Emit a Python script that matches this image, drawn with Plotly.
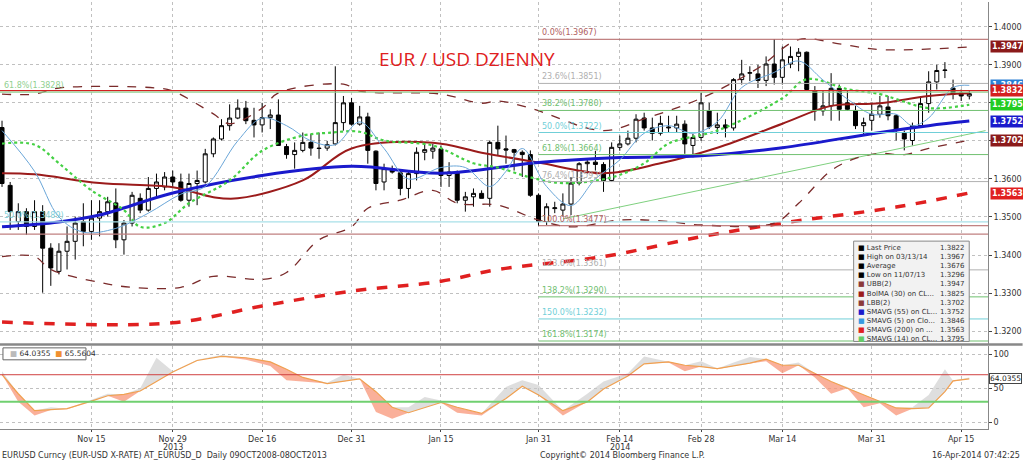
import numpy as np
import pandas as pd
import plotly.graph_objects as go
from plotly.subplots import make_subplots

# daily bars, 31 Oct 2013 .. 16 Apr 2014
dates = pd.bdate_range('2013-10-31', periods=120)

opens = [1.3735, 1.3583, 1.3488, 1.3514, 1.3475, 1.3514, 1.3418, 1.3357, 1.3410, 1.3436,
         1.3488, 1.3462, 1.3497, 1.3514, 1.3537, 1.3440, 1.3484, 1.3549, 1.3518, 1.3575,
         1.3579, 1.3605, 1.3592, 1.3544, 1.3588, 1.3592, 1.3666, 1.3705, 1.3740, 1.3760,
         1.3786, 1.3754, 1.3742, 1.3761, 1.3768, 1.3685, 1.3664, 1.3675, 1.3696, 1.3681,
         1.3681, 1.3692, 1.3748, 1.3800, 1.3744, 1.3763, 1.3673, 1.3592, 1.3627, 1.3616,
         1.3575, 1.3614, 1.3670, 1.3673, 1.3679, 1.3609, 1.3618, 1.3544, 1.3553, 1.3562,
         1.3549, 1.3696, 1.3679, 1.3677, 1.3670, 1.3664, 1.3557, 1.3488, 1.3522, 1.3518,
         1.3534, 1.3589, 1.3640, 1.3644, 1.3638, 1.3596, 1.3683, 1.3692, 1.3707, 1.3760,
         1.3734, 1.3720, 1.3734, 1.3734, 1.3744, 1.3688, 1.3709, 1.3779, 1.3735, 1.3742,
         1.3734, 1.3861, 1.3878, 1.3876, 1.3859, 1.3902, 1.3867, 1.3902, 1.3922, 1.3933,
         1.3831, 1.3779, 1.3792, 1.3838, 1.3800, 1.3780, 1.3740, 1.3754, 1.3770, 1.3789,
         1.3766, 1.3720, 1.3701, 1.3740, 1.3798, 1.3855, 1.3885, 1.3839, 1.3826, 1.3818]
highs = [1.3753, 1.3592, 1.3536, 1.3523, 1.3544, 1.3531, 1.3431, 1.3431, 1.3475, 1.3501,
         1.3536, 1.3544, 1.3544, 1.3553, 1.3575, 1.3492, 1.3566, 1.3562, 1.3605, 1.3614,
         1.3618, 1.3622, 1.3614, 1.3614, 1.3622, 1.3679, 1.3709, 1.3757, 1.3796, 1.3809,
         1.3805, 1.3787, 1.3800, 1.3783, 1.3809, 1.3692, 1.3696, 1.3722, 1.3718, 1.3722,
         1.3700, 1.3896, 1.3818, 1.3813, 1.3792, 1.3774, 1.3675, 1.3640, 1.3635, 1.3622,
         1.3622, 1.3683, 1.3692, 1.3692, 1.3688, 1.3644, 1.3622, 1.3566, 1.3575, 1.3570,
         1.3701, 1.3740, 1.3714, 1.3679, 1.3675, 1.3675, 1.3562, 1.3536, 1.3540, 1.3562,
         1.3605, 1.3644, 1.3653, 1.3674, 1.3644, 1.3696, 1.3714, 1.3727, 1.3770, 1.3774,
         1.3761, 1.3766, 1.3766, 1.3766, 1.3754, 1.3718, 1.3826, 1.3800, 1.3774, 1.3757,
         1.3865, 1.3913, 1.3896, 1.3900, 1.3922, 1.3967, 1.3948, 1.3948, 1.3944, 1.3935,
         1.3844, 1.3831, 1.3878, 1.3848, 1.3831, 1.3792, 1.3761, 1.3800, 1.3818, 1.3818,
         1.3770, 1.3727, 1.3748, 1.3813, 1.3883, 1.3900, 1.3907, 1.3861, 1.3835, 1.3831]
lows = [1.3579, 1.3466, 1.3466, 1.3453, 1.3466, 1.3301, 1.3319, 1.3349, 1.3362, 1.3388,
        1.3423, 1.3440, 1.3449, 1.3501, 1.3418, 1.3401, 1.3475, 1.3510, 1.3514, 1.3553,
        1.3570, 1.3579, 1.3540, 1.3527, 1.3531, 1.3588, 1.3657, 1.3701, 1.3727, 1.3757,
        1.3744, 1.3709, 1.3722, 1.3731, 1.3687, 1.3653, 1.3627, 1.3670, 1.3661, 1.3653,
        1.3674, 1.3688, 1.3727, 1.3740, 1.3740, 1.3640, 1.3570, 1.3570, 1.3614, 1.3557,
        1.3549, 1.3596, 1.3649, 1.3653, 1.3579, 1.3579, 1.3536, 1.3514, 1.3527, 1.3549,
        1.3527, 1.3661, 1.3640, 1.3622, 1.3605, 1.3553, 1.3477, 1.3479, 1.3510, 1.3501,
        1.3505, 1.3583, 1.3614, 1.3622, 1.3566, 1.3592, 1.3674, 1.3688, 1.3696, 1.3727,
        1.3701, 1.3714, 1.3722, 1.3722, 1.3666, 1.3657, 1.3700, 1.3731, 1.3718, 1.3709,
        1.3727, 1.3848, 1.3857, 1.3839, 1.3844, 1.3848, 1.3848, 1.3891, 1.3883, 1.3831,
        1.3753, 1.3766, 1.3753, 1.3753, 1.3779, 1.3731, 1.3714, 1.3727, 1.3761, 1.3754,
        1.3701, 1.3675, 1.3688, 1.3735, 1.3774, 1.3835, 1.3865, 1.3809, 1.3805, 1.3809]
closes = [1.3588, 1.3514, 1.3514, 1.3475, 1.3514, 1.3418, 1.3366, 1.3410, 1.3436, 1.3484,
          1.3462, 1.3497, 1.3514, 1.3540, 1.3440, 1.3484, 1.3557, 1.3518, 1.3575, 1.3592,
          1.3605, 1.3592, 1.3544, 1.3588, 1.3596, 1.3666, 1.3705, 1.3740, 1.3760, 1.3786,
          1.3753, 1.3742, 1.3761, 1.3768, 1.3688, 1.3664, 1.3675, 1.3696, 1.3681, 1.3680,
          1.3690, 1.3748, 1.3800, 1.3744, 1.3763, 1.3675, 1.3588, 1.3627, 1.3618, 1.3575,
          1.3614, 1.3670, 1.3677, 1.3681, 1.3609, 1.3618, 1.3544, 1.3553, 1.3562, 1.3549,
          1.3696, 1.3679, 1.3676, 1.3670, 1.3664, 1.3557, 1.3488, 1.3527, 1.3524, 1.3534,
          1.3589, 1.3640, 1.3644, 1.3638, 1.3596, 1.3683, 1.3692, 1.3707, 1.3757, 1.3734,
          1.3720, 1.3746, 1.3736, 1.3744, 1.3692, 1.3709, 1.3800, 1.3737, 1.3742, 1.3734,
          1.3861, 1.3876, 1.3879, 1.3859, 1.3902, 1.3867, 1.3913, 1.3922, 1.3933, 1.3835,
          1.3779, 1.3792, 1.3838, 1.3783, 1.3783, 1.3740, 1.3748, 1.3770, 1.3792, 1.3766,
          1.3727, 1.3705, 1.3740, 1.3798, 1.3855, 1.3885, 1.3886, 1.3822, 1.3818, 1.3824]

# indicator lines, read at sparse bars
sma200_i = [0, 21, 32, 43, 54, 61, 74, 86, 96, 110, 119]
sma200_v = [1.3224, 1.3222, 1.3266, 1.3305, 1.3331, 1.3362, 1.3396, 1.3448, 1.3484, 1.3526, 1.3563]
sma55_i = [0, 7, 12, 21, 32, 43, 54, 66, 76, 86, 96, 107, 114, 119]
sma55_v = [1.3474, 1.3487, 1.3505, 1.3563, 1.3609, 1.3633, 1.3615, 1.3643, 1.3656, 1.3661, 1.3682, 1.3719, 1.3740, 1.3752]
bolma_i = [0, 4, 12, 21, 26, 29, 37, 43, 53, 59, 66, 74, 81, 88, 96, 102, 108, 114, 119]
bolma_v = [1.3615, 1.3612, 1.3589, 1.3578, 1.3552, 1.3549, 1.3596, 1.3680, 1.3695, 1.3669, 1.3643, 1.3615, 1.3641, 1.3682, 1.3745, 1.3792, 1.3799, 1.3818, 1.3825]
ubb_i = [0, 4, 7, 19, 21, 26, 28, 32, 34, 42, 44, 54, 59, 61, 65, 74, 79, 86, 93, 98, 103, 108, 119]
ubb_v = [1.3823, 1.3823, 1.3839, 1.3839, 1.3831, 1.3771, 1.3745, 1.3786, 1.3826, 1.3849, 1.3831, 1.3823, 1.3799, 1.3805, 1.3786, 1.3727, 1.3758, 1.3812, 1.3891, 1.3966, 1.3955, 1.3940, 1.3947]
lbb_i = [0, 4, 6, 12, 16, 22, 26, 32, 35, 39, 43, 45, 49, 53, 56, 61, 66, 70, 76, 81, 86, 95, 98, 102, 105, 108, 111, 114, 119]
lbb_v = [1.3396, 1.3396, 1.3362, 1.3328, 1.3315, 1.3315, 1.3344, 1.3336, 1.3354, 1.3440, 1.3474, 1.3523, 1.3544, 1.3570, 1.3536, 1.3531, 1.3492, 1.3474, 1.3492, 1.3490, 1.3479, 1.3484, 1.3536, 1.3622, 1.3654, 1.3667, 1.3664, 1.3680, 1.3702]
sma14_i = [0, 4, 7, 11, 15, 17, 20, 23, 28, 32, 37, 40, 44, 47, 53, 58, 61, 65, 69, 75, 79, 82, 88, 96, 99, 104, 108, 110, 114, 119]
sma14_v = [1.3693, 1.3690, 1.3641, 1.3570, 1.3518, 1.3474, 1.3484, 1.3536, 1.3596, 1.3674, 1.3714, 1.3721, 1.3724, 1.3701, 1.3688, 1.3641, 1.3630, 1.3604, 1.3589, 1.3604, 1.3641, 1.3693, 1.3727, 1.3812, 1.3862, 1.3836, 1.3823, 1.3810, 1.3786, 1.3795]
sma5_i = [0, 4, 7, 10, 14, 18, 22, 25, 29, 32, 35, 38, 41, 44, 47, 50, 54, 57, 60, 62, 64, 67, 70, 73, 76, 79, 82, 85, 88, 91, 95, 98, 101, 104, 107, 110, 112, 114, 117, 119]
sma5_v = [1.3727, 1.3620, 1.3500, 1.3460, 1.3470, 1.3510, 1.3560, 1.3580, 1.3700, 1.3760, 1.3740, 1.3700, 1.3690, 1.3750, 1.3680, 1.3600, 1.3630, 1.3630, 1.3580, 1.3620, 1.3680, 1.3580, 1.3530, 1.3600, 1.3650, 1.3720, 1.3740, 1.3720, 1.3750, 1.3840, 1.3880, 1.3910, 1.3860, 1.3810, 1.3770, 1.3770, 1.3740, 1.3760, 1.3840, 1.3846]
trend_i = [69, 121]
trend_v = [1.3495, 1.3727]

# fibonacci retracement from 1.3967 high to 1.3477 low
fib_labels = ['0.0%(1.3967)', '23.6%(1.3851)', '38.2%(1.3780)', '50.0%(1.3722)', '61.8%(1.3664)',
              '76.4%(1.3593)', '100.0%(1.3477)', '123.6%(1.3361)', '138.2%(1.3290)', '150.0%(1.3232)', '161.8%(1.3174)']
fib_levels = [1.3967, 1.3851, 1.3780, 1.3722, 1.3664, 1.3593, 1.3477, 1.3361, 1.3290, 1.3232, 1.3174]
fib_colors = ['#b06060', '#b0b0b0', '#70c070', '#70cfd8', '#70c070', '#b0b0b0', '#b06060',
              '#b0b0b0', '#70c070', '#70cfd8', '#70c070']

# oscillator panel
osc_i = [0, 2, 4, 6, 8, 11, 13, 15, 17, 19, 21, 24, 27, 30, 33, 35, 37, 40, 42, 44, 46, 48, 50, 52, 54, 56, 59,
         62, 64, 66, 69, 72, 74, 77, 79, 82, 84, 86, 88, 90, 92, 94, 96, 98, 100, 102, 104, 106, 108, 110, 112,
         114, 116, 117, 119]
osc_slow = [70, 42, 17, 18, 20, 31, 39, 41, 46, 60, 74, 91, 97, 95, 89, 78, 66, 57, 60, 64, 45, 22, 14, 22, 29, 22, 13,
            35, 53, 40, 17, 30, 49, 68, 86, 89, 84, 82, 79, 83, 87, 93, 84, 84, 72, 60, 50, 40, 31, 21, 20,
            21, 45, 61, 64]
osc_fast = [75, 30, 10, 22, 19, 33, 42, 30, 50, 95, 75, 92, 99, 92, 83, 62, 60, 58, 70, 64, 15, 5, 22, 37, 32, 14, 10,
            52, 62, 55, 10, 42, 60, 72, 97, 88, 75, 90, 78, 88, 96, 90, 72, 88, 66, 42, 52, 22, 28, 10, 22,
            40, 78, 60, 66]

tick_dates = ['2013-11-15', '2013-11-29', '2013-12-16', '2013-12-31', '2014-01-15', '2014-01-31',
              '2014-02-14', '2014-02-28', '2014-03-14', '2014-03-31', '2014-04-15']
tick_text = ['Nov 15', 'Nov 29', 'Dec 16', 'Dec 31', 'Jan 15', 'Jan 31',
             'Feb 14', 'Feb 28', 'Mar 14', 'Mar 31', 'Apr 15']
year_dates = ['2013-11-29', '2014-02-14']
year_text = ['2013', '2014']

tags = [(1.3947, '#8b1a1a'), (1.3846, '#2a7fd4'), (1.3832, '#d42020'), (1.3795, '#22cc22'),
        (1.3752, '#1a1acc'), (1.3702, '#8b1a1a'), (1.3563, '#e02020')]

legend_names = ['Last Price', 'High on 03/13/14', 'Average', 'Low on 11/07/13', 'UBB(2)', 'BolMA (30) on CL...',
                'LBB(2)', 'SMAVG (55) on CL...', 'SMAVG (5) on Clo...', 'SMAVG (200) on ...', 'SMAVG (14) on CL...']
legend_vals = ['1.3822', '1.3967', '1.3676', '1.3296', '1.3947', '1.3825', '1.3702', '1.3752', '1.3846', '1.3563', '1.3795']
legend_marks = ['#000000', '#000000', '#000000', '#000000', '#8b3a3a', '#9b1b1b', '#8b3a3a', '#1a1acc', '#3a9ae0',
                '#e02020', '#66cc66']

xs = list(range(len(dates)))
tick_pos = [dates.get_loc(pd.Timestamp(d)) for d in tick_dates]
x0, x1 = -0.25, 121.3

fig = make_subplots(rows=2, cols=1, shared_xaxes=True, vertical_spacing=0.006, row_heights=[0.805, 0.195])

fig.add_trace(go.Candlestick(x=xs, open=opens, high=highs, low=lows, close=closes,
                             increasing=dict(line=dict(color='black', width=1), fillcolor='white'),
                             decreasing=dict(line=dict(color='black', width=1), fillcolor='black'),
                             whiskerwidth=0, showlegend=False), row=1, col=1)


def add_line(idx, vals, color, width, dash='solid'):
    fig.add_trace(go.Scatter(x=idx, y=vals, mode='lines', line=dict(color=color, width=width, dash=dash, shape='spline'),
                             showlegend=False, hoverinfo='skip'), row=1, col=1)


add_line(trend_i, trend_v, '#7fd07f', 1)
add_line(sma200_i, sma200_v, '#e02020', 3.5, 'dash')
add_line(ubb_i, ubb_v, '#7a2a2a', 1.3, 'dash')
add_line(lbb_i, lbb_v, '#7a2a2a', 1.3, 'dash')
add_line(bolma_i, bolma_v, '#9b1b1b', 2)
add_line(sma55_i, sma55_v, '#1a1acc', 3)
add_line(sma14_i, sma14_v, '#44d044', 2.2, 'dot')
add_line(sma5_i, sma5_v, '#6aa6d8', 1)

# oscillator fills
slow = np.array(osc_slow)
fast = np.array(osc_fast)
fig.add_trace(go.Scatter(x=osc_i, y=slow, mode='lines', line=dict(width=0), showlegend=False, hoverinfo='skip'), row=2, col=1)
fig.add_trace(go.Scatter(x=osc_i, y=np.maximum(fast, slow), mode='lines', line=dict(width=0), fill='tonexty',
                         fillcolor='rgba(200,200,200,0.6)', showlegend=False, hoverinfo='skip'), row=2, col=1)
fig.add_trace(go.Scatter(x=osc_i, y=slow, mode='lines', line=dict(width=0), showlegend=False, hoverinfo='skip'), row=2, col=1)
fig.add_trace(go.Scatter(x=osc_i, y=np.minimum(fast, slow), mode='lines', line=dict(width=0), fill='tonexty',
                         fillcolor='rgba(248,150,120,0.75)', showlegend=False, hoverinfo='skip'), row=2, col=1)
fig.add_trace(go.Scatter(x=osc_i, y=slow, mode='lines', line=dict(color='#f0a050', width=1.2), showlegend=False,
                         hoverinfo='skip'), row=2, col=1)

shapes = []
# full-width horizontal lines
for yv, c in [(1.3832, '#d42020'), (1.3828, '#90d090'), (1.3487, '#a8e0e8'), (1.3455, '#c08080')]:
    shapes.append(dict(type='line', xref='x', yref='y', x0=x0, x1=x1, y0=yv, y1=yv, line=dict(color=c, width=1.2)))
for lv, c in zip(fib_levels, fib_colors):
    shapes.append(dict(type='line', xref='x', yref='y', x0=66, x1=x1, y0=lv, y1=lv, line=dict(color=c, width=1)))
shapes.append(dict(type='line', xref='x2', yref='y2', x0=x0, x1=x1, y0=70, y1=70, line=dict(color='#d04040', width=1)))
shapes.append(dict(type='line', xref='x2', yref='y2', x0=x0, x1=x1, y0=30, y1=30, line=dict(color='#70d070', width=2)))
shapes.append(dict(type='line', xref='paper', yref='paper', x0=0, x1=1.035, y0=0.198, y1=0.198,
                   line=dict(color='#888888', width=2.5)))
# legend boxes
shapes.append(dict(type='rect', xref='paper', yref='paper', x0=0.864, x1=0.981, y0=0.205, y1=0.44,
                   fillcolor='#f2f2f2', line=dict(color='#888888', width=1)))
shapes.append(dict(type='rect', xref='paper', yref='paper', x0=0.003, x1=0.087, y0=0.162, y1=0.19,
                   fillcolor='white', line=dict(color='#666666', width=1)))

ann = []
ann.append(dict(text='EUR / USD DZIENNY', xref='paper', yref='paper', x=0.473, y=0.867, yanchor='middle',
                showarrow=False, font=dict(family='Open Sans', size=19, color='#e02020')))
for lab, lv, c in zip(fib_labels, fib_levels, fib_colors):
    ann.append(dict(text=lab, xref='x', yref='y', x=66.2, y=lv, xanchor='left', yanchor='bottom', showarrow=False,
                    font=dict(size=8, color=c)))
ann.append(dict(text='61.8%(1.3828)', xref='x', yref='y', x=0, y=1.3828, xanchor='left', yanchor='bottom',
                showarrow=False, font=dict(size=8, color='#90d090')))
ann.append(dict(text='50.0%(1.3489)', xref='x', yref='y', x=0, y=1.3487, xanchor='left', yanchor='bottom',
                showarrow=False, font=dict(size=8, color='#80d0d8')))
for v, c in tags:
    ann.append(dict(text='<b>%.4f</b>' % v, xref='paper', yref='y', x=1.002, y=v, xanchor='left', showarrow=False,
                    bgcolor=c, font=dict(size=8, color='white'), borderpad=1))
ann.append(dict(text='64.0355', xref='paper', yref='y2', x=1.001, y=64, xanchor='left', showarrow=False,
                bgcolor='white', bordercolor='#444', borderwidth=1, font=dict(size=7.5, color='#222'), borderpad=0))
names_txt = '<br>'.join('<span style="color:%s">■</span> %s' % (m, n) for m, n in zip(legend_marks, legend_names))
ann.append(dict(text=names_txt, xref='paper', yref='paper', x=0.866, y=0.437, xanchor='left', yanchor='top',
                align='left', showarrow=False, font=dict(size=7, color='#333')))
ann.append(dict(text='<br>'.join(legend_vals), xref='paper', yref='paper', x=0.979, y=0.437, xanchor='right',
                yanchor='top', align='right', showarrow=False, font=dict(size=7, color='#333')))
ann.append(dict(text='<span style="color:#bbbbbb">■</span> 64.0355  <span style="color:#f09030">■</span> 65.5604',
                xref='paper', yref='paper', x=0.008, y=0.176, xanchor='left', yanchor='middle', showarrow=False,
                font=dict(size=7.5, color='#333')))
for d, t in zip(year_dates, year_text):
    ann.append(dict(text=t, xref='x2', yref='paper', x=dates.get_loc(pd.Timestamp(d)), y=-0.043, yanchor='middle',
                    showarrow=False, font=dict(size=8, color='#333')))
ann.append(dict(text='EURUSD Curncy (EUR-USD X-RATE) AT_EURUSD_D  Daily 09OCT2008-08OCT2013', xref='paper',
                yref='paper', x=0.0, y=-0.063, xanchor='left', yanchor='middle', showarrow=False,
                font=dict(size=8, color='#333')))
ann.append(dict(text='Copyright© 2014 Bloomberg Finance L.P.', xref='paper', yref='paper', x=0.545, y=-0.063,
                xanchor='left', yanchor='middle', showarrow=False, font=dict(size=8, color='#333')))
ann.append(dict(text='16-Apr-2014 07:42:25', xref='paper', yref='paper', x=1.034, y=-0.063, xanchor='right',
                yanchor='middle', showarrow=False, font=dict(size=8, color='#333')))

fig.update_layout(width=1023, height=462, margin=dict(l=0, r=35, t=2, b=33), plot_bgcolor='white',
                  paper_bgcolor='white', shapes=shapes, annotations=ann, font=dict(family='DejaVu Sans'),
                  xaxis_rangeslider_visible=False)
axis_x = dict(range=[x0, x1], tickvals=tick_pos, showgrid=True, gridcolor='#c0c0c0', griddash='dot',
              zeroline=False)
fig.update_xaxes(**axis_x, showticklabels=False, showline=False, row=1, col=1)
fig.update_xaxes(**axis_x, ticktext=tick_text, ticks='outside', ticklen=2, tickfont=dict(size=8, color='#333'),
                 showline=True, linecolor='#888', row=2, col=1)
fig.update_yaxes(range=[1.3167, 1.4065], side='right', tickvals=[1.32 + 0.01 * k for k in range(9)],
                 tickformat='.4f', ticks='outside', ticklen=3, tickfont=dict(size=8, color='#333'),
                 showgrid=True, gridcolor='#c0c0c0', griddash='dot', zeroline=False, showline=True,
                 linecolor='#888', row=1, col=1)
fig.update_yaxes(range=[-10, 112], side='right', tickvals=[0, 50, 100], ticks='outside', ticklen=3,
                 tickfont=dict(size=8, color='#333'), showgrid=True, gridcolor='#c0c0c0', griddash='dot',
                 zeroline=False, showline=True, linecolor='#888', row=2, col=1)

fig.write_html("out.html", config={'displayModeBar': False}, post_script="document.body.style.margin='0';")
